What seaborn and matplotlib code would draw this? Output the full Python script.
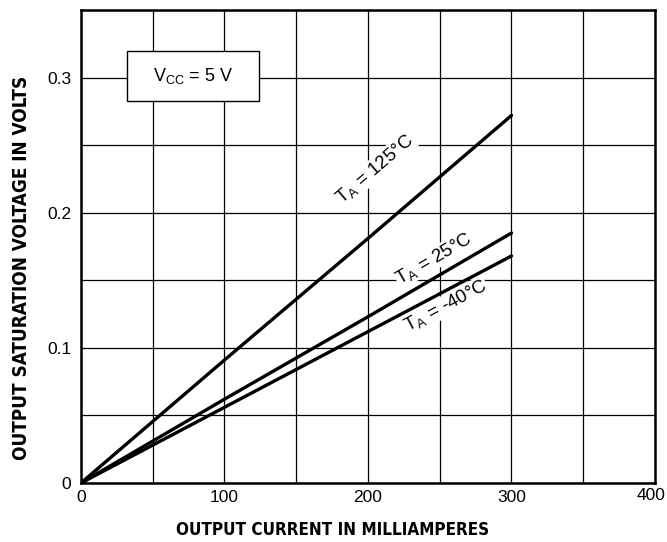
import matplotlib
matplotlib.use("Agg")
import matplotlib.pyplot as plt
import pandas as pd
import seaborn as sns
from matplotlib import font_manager
from matplotlib.patches import Rectangle
from matplotlib.ticker import MultipleLocator

# data
current = [0, 100, 200, 300]
v_125 = [0, 0.091, 0.181, 0.272]
v_25 = [0, 0.062, 0.123, 0.185]
v_m40 = [0, 0.056, 0.112, 0.168]
temps = ["125", "25", "-40"]
x_ticks = [0, 100, 200, 300]
x_tick_labels = ["0", "100", "200", "300"]
y_ticks = [0, 0.1, 0.2, 0.3]
y_tick_labels = ["0", "0.1", "0.2", "0.3"]

df = pd.DataFrame({
    "current": current * 3,
    "voltage": v_125 + v_25 + v_m40,
    "temp": [t for t in temps for _ in current],
})

sns.set_style("white")
plt.rcParams["font.family"] = ["Liberation Sans", "DejaVu Sans"]
plt.rcParams["text.color"] = "black"
plt.rcParams["axes.labelcolor"] = "black"
plt.rcParams["mathtext.fontset"] = "custom"
plt.rcParams["mathtext.rm"] = "Liberation Sans"
plt.rcParams["mathtext.it"] = "Liberation Sans"

# look for a condensed bold face for the axis titles
cond = [f for f in font_manager.fontManager.ttflist
        if f.stretch in ("condensed", "semi-condensed", "extra-condensed")
        or "Narrow" in f.name or "Condensed" in f.name]
label_font = dict(family="Liberation Sans", fontweight="bold")
for pref in ("Liberation Sans Narrow", "Arial Narrow", "DejaVu Sans", "Roboto", "Open Sans", "Noto Sans"):
    hit = [f for f in cond if f.name == pref]
    if hit:
        label_font = dict(family=pref, fontweight="bold", fontstretch="condensed")
        break

fig = plt.figure(figsize=(6.67, 5.42), dpi=100)
ax = fig.add_axes([0.1214, 0.1089, 0.8606, 0.8726])

sns.lineplot(data=df, x="current", y="voltage", hue="temp", estimator=None,
             palette=["black"] * 3, linewidth=2.4, legend=False, ax=ax, zorder=3)

ax.set_xlim(0, 400)
ax.set_ylim(0, 0.35)
ax.xaxis.set_minor_locator(MultipleLocator(50))
ax.yaxis.set_minor_locator(MultipleLocator(0.05))
ax.set_xticks(x_ticks)
ax.set_xticklabels(x_tick_labels)
ax.set_yticks(y_ticks)
ax.set_yticklabels(y_tick_labels)
ax.grid(which="both", color="black", linewidth=0.9)
ax.tick_params(which="both", length=0, labelsize=12.5, colors="black", pad=5)
ax.tick_params(axis="y", pad=7)
for s in ax.spines.values():
    s.set_color("black")
    s.set_linewidth(1.8)
ax.set_axisbelow(True)

# the 400 label sits flush with the right edge, a bit higher than the others
fig.text(0.998, 0.086, "400", ha="right", va="center", fontsize=12.5, color="black")

xl = ax.set_xlabel("OUTPUT CURRENT IN MILLIAMPERES", fontsize=14, color="black", **label_font)
yl = ax.set_ylabel("OUTPUT SATURATION VOLTAGE IN VOLTS", fontsize=14, color="black", **label_font)
ax.xaxis.set_label_coords(0.439, -0.099)
ax.yaxis.set_label_coords(-0.103, 0.4545)
xl.set_va("center")
yl.set_va("center")

# fit axis titles to the reference widths
r = fig.canvas.get_renderer()
w = xl.get_window_extent(r).width
xl.set_fontsize(min(14.5, 14 * 316 / w))
h = yl.get_window_extent(r).height
yl.set_fontsize(min(14.5, 14 * 387 / h))

# Vcc box
ax.add_patch(Rectangle((32, 0.2827), 92, 0.0369, facecolor="white", edgecolor="black",
                       linewidth=1.0, zorder=4))
ax.text(78, 0.3012, r"V$_{\mathregular{CC}}$ = 5 V", ha="center", va="center",
        fontsize=13, color="black", zorder=5)

lbl = dict(ha="center", va="center", fontsize=13.5, color="black", zorder=5,
           bbox=dict(facecolor="white", edgecolor="none", pad=0.5),
           rotation_mode="anchor")
ax.text(205, 0.2325, r"T$_{\mathregular{A}}$ = 125°C", rotation=40.6, **lbl)
ax.text(246, 0.166, r"T$_{\mathregular{A}}$ = 25°C", rotation=30.3, **lbl)
ax.text(254, 0.131, r"T$_{\mathregular{A}}$ = -40°C", rotation=27.9, **lbl)

fig.savefig("out.png", dpi=100)
